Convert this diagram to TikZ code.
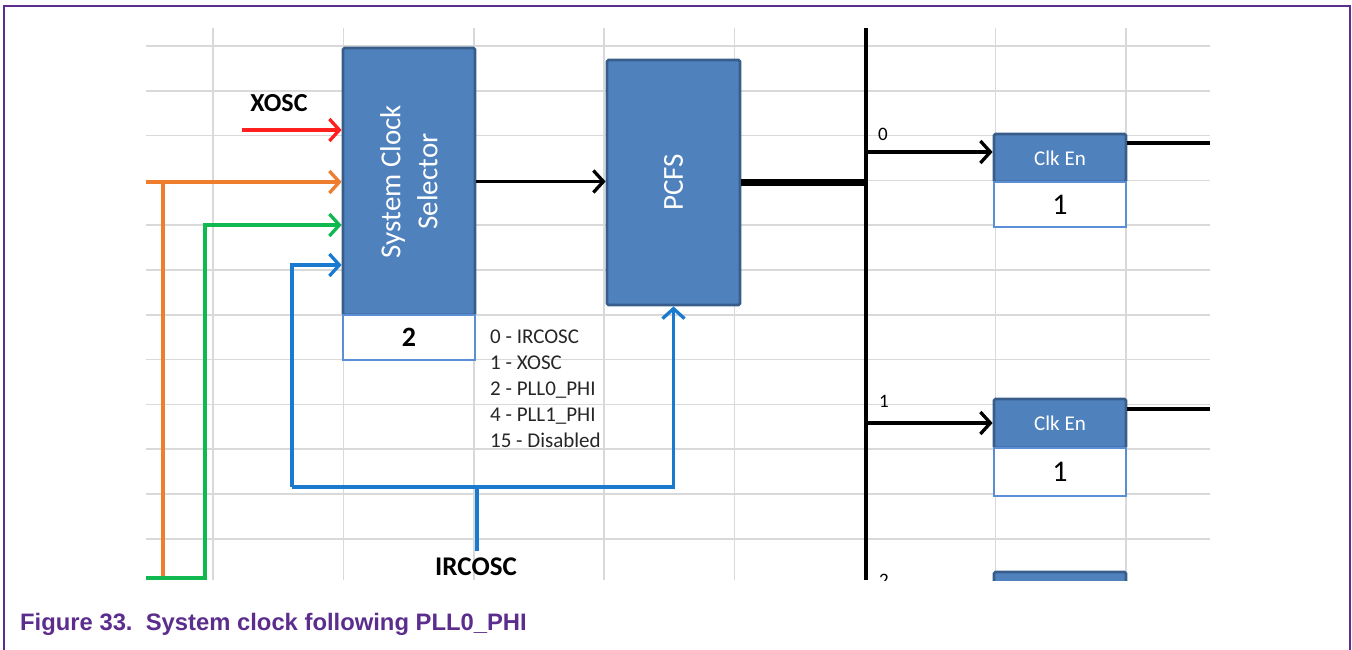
\documentclass[tikz,border=0pt]{standalone}
\usepackage{fontspec}
\setmainfont{Carlito}
\newfontfamily\capfont{Liberation Sans}
\usetikzlibrary{arrows.meta}
\definecolor{gridc}{HTML}{D9D9D9}
\definecolor{blkfill}{HTML}{4F81BD}
\definecolor{blkdraw}{HTML}{385D8A}
\definecolor{boxdraw}{HTML}{5A8FD8}
\definecolor{nxppurple}{HTML}{5B2D8C}
\definecolor{sigred}{HTML}{FF1F1F}
\definecolor{sigorange}{HTML}{EE7D2E}
\definecolor{siggreen}{HTML}{10B850}
\definecolor{sigblue}{HTML}{1A7AD0}
\definecolor{listgray}{HTML}{262626}
\tikzset{
  gridline/.style={draw=gridc, line width=1.6pt},
  blk/.style={draw=blkdraw, line width=2.8pt, fill=blkfill, text=white, rounded corners=1.5pt, inner sep=0pt},
  valbox/.style={draw=boxdraw, line width=2.6pt, fill=white, inner sep=0pt, text=black},
  conn/.style={line width=3.3pt},
  sigarrow/.style={conn, -{Straight Barb[length=10pt,width=22pt,line width=3.3pt]}},
  lbl/.style={inner sep=0pt, text=black},
  listtxt/.style={inner sep=0pt, anchor=base west, text=listgray, font=\fontsize{21}{26}\selectfont},
}
\begin{document}
\begin{tikzpicture}[x=1pt,y=-1pt]
\useasboundingbox (0,0) rectangle (1352,650);
% frame
\draw[nxppurple, line width=2.5pt] (4,650) -- (4,6) -- (1350,6) -- (1350,650);
% grid
\foreach \i in {0,...,11} \draw[gridline] (146,46+44.8*\i) -- (1210,46+44.8*\i);
\foreach \i in {0,...,7} \draw[gridline] (213+130.4*\i,28) -- (213+130.4*\i,580);

% blocks (rotated: north=left, south=right, east=top, west=bottom)
\node[blk, minimum width=267pt, minimum height=132pt, align=center,
      rotate=90, font=\fontsize{29}{37}\selectfont] (sel) at (409,181.5) {System Clock\\Selector};
\node[valbox, minimum width=132pt, minimum height=45pt, font=\bfseries\fontsize{28}{30}\selectfont] (selval) at (409,337.5) {2};
\node[blk, minimum width=245pt, minimum height=133pt, rotate=90,
      font=\fontsize{29}{32}\selectfont] (pcfs) at (673.5,182.5) {PCFS};
\node[blk, minimum width=132pt, minimum height=48pt, font=\fontsize{21}{24}\selectfont] (clk0) at (1060,158) {Clk En};
\node[valbox, minimum width=132pt, minimum height=45pt, font=\fontsize{30}{32}\selectfont] (val0) at (1060,204.5) {1};
\node[blk, minimum width=132pt, minimum height=49pt, font=\fontsize{21}{24}\selectfont] (clk1) at (1060,423.5) {Clk En};
\node[valbox, minimum width=132pt, minimum height=48pt, font=\fontsize{30}{32}\selectfont] (val1) at (1060,472) {1};
\begin{scope}
\clip (860,555) rectangle (1210,580);
\node[blk, minimum width=132pt, minimum height=48pt] (clk2) at (1060,596) {};
\node[lbl, font=\fontsize{19}{21}\selectfont] (n2) at (884,580) {2};
\end{scope}

% bus
\coordinate (bustop) at (866,28);
\coordinate (busbot) at (866,580);
\draw[line width=3.3pt] (bustop) -- (busbot);
\draw[line width=6.5pt] (pcfs.south) -- (pcfs.south -| bustop);
\coordinate (t0) at (866,152);
\coordinate (t1) at (866,423);
\draw[sigarrow] (t0) -- (t0 -| clk0.west);
\draw[sigarrow] (t1) -- (t1 -| clk1.west);
\node[lbl, font=\fontsize{19}{21}\selectfont] (n0) at (883,134) {0};
\node[lbl, font=\fontsize{19}{21}\selectfont] (n1) at (884,401) {1};
\coordinate (out0) at (1210,143);
\coordinate (out1) at (1210,409);
\draw[conn] (out0 -| clk0.east) -- (out0);
\draw[conn] (out1 -| clk1.east) -- (out1);

% selector -> PCFS
\draw[sigarrow] (sel.south) -- (sel.south -| pcfs.north);

% XOSC
\coordinate (xs) at (242,130);
\draw[sigarrow, sigred] (xs) -- (xs -| sel.north);
\node[lbl, font=\bfseries\fontsize{26}{28}\selectfont] (xosc) at (279,103) {XOSC};

% orange
\coordinate (o1) at (146,182);
\coordinate (o2) at (163,182);
\coordinate (o3) at (163,580);
\draw[sigarrow, sigorange] (o1) -- (o1 -| sel.north);
\draw[conn, sigorange] (o2) -- (o3);

% green
\coordinate (g0) at (146,578);
\coordinate (g1) at (205,578);
\coordinate (g2) at (205,225);
\draw[sigarrow, siggreen] (g0) -- (g1) -- (g2) -- (g2 -| sel.north);

% blue
\coordinate (b1) at (292,487);
\coordinate (b2) at (292,265);
\coordinate (bf) at (477,551);
\node[lbl, font=\bfseries\fontsize{27}{29}\selectfont] (irc) at (476,567) {IRCOSC};
\draw[sigarrow, sigblue] (b1) -- (b2) -- (b2 -| sel.north);
\draw[sigarrow, sigblue] (b1) -- (b1 -| pcfs.west) -- (pcfs.west);
\draw[conn, sigblue] (bf) -- (bf |- b1);

% list
\node[listtxt] (l0) at (490,343) {0 - IRCOSC};
\node[listtxt] (l1) at (490,369) {1 - XOSC};
\node[listtxt] (l2) at (490,395) {2 - PLL0\_PHI};
\node[listtxt] (l4) at (490,421) {4 - PLL1\_PHI};
\node[listtxt] (l15) at (490,447) {15 - Disabled};

% caption
\node[inner sep=0pt, anchor=base west, text=nxppurple,
      font=\capfont\bfseries\fontsize{23.8}{26}\selectfont] (cap) at (20,630)
      {Figure 33.\ \ System clock following PLL0\_PHI};
\end{tikzpicture}
\end{document}
